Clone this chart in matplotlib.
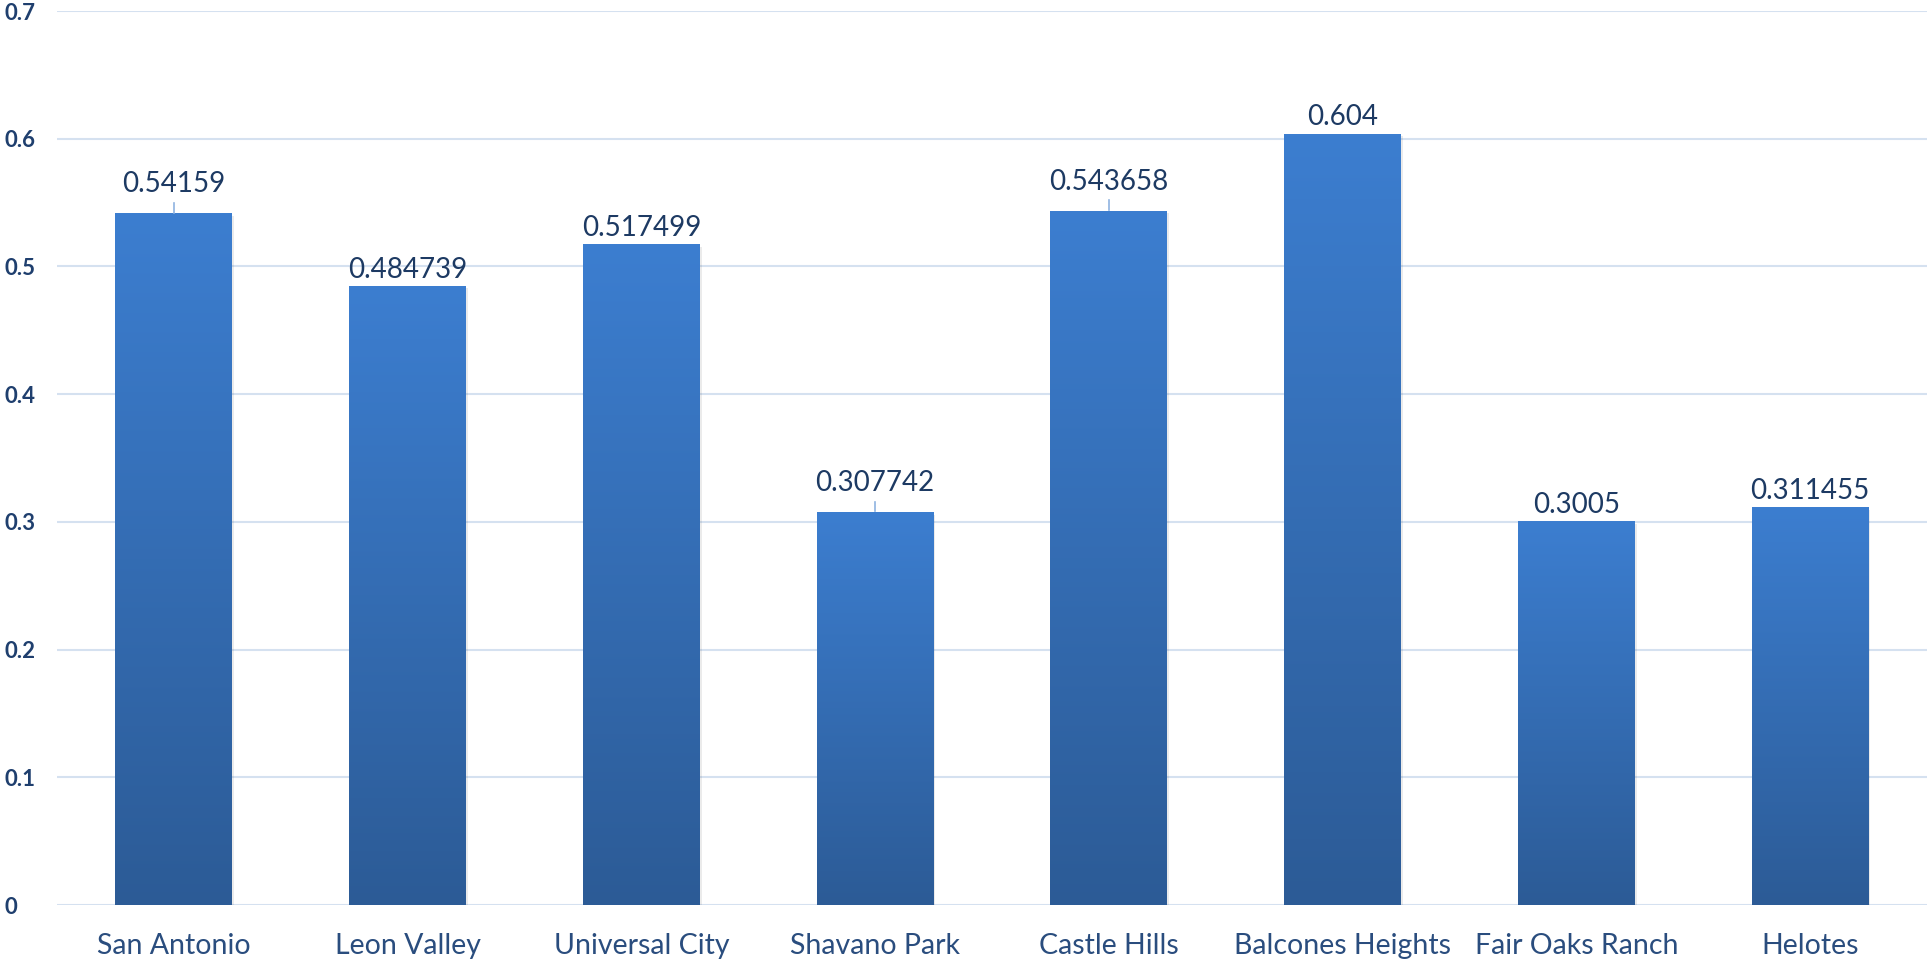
import numpy as np
import matplotlib

matplotlib.use("Agg")
import matplotlib.pyplot as plt

plt.rcParams["font.family"] = ["Lato", "DejaVu Sans"]

cities = ["San Antonio", "Leon Valley", "Universal City", "Shavano Park",
          "Castle Hills", "Balcones Heights", "Fair Oaks Ranch", "Helotes"]
values = [0.54159, 0.484739, 0.517499, 0.307742,
          0.543658, 0.604, 0.3005, 0.311455]
labels = ["0.54159", "0.484739", "0.517499", "0.307742",
          "0.543658", "0.604", "0.3005", "0.311455"]
leader = [True, False, False, True, True, False, False, False]
yticks = [0, 0.1, 0.2, 0.3, 0.4, 0.5, 0.6, 0.7]

fig = plt.figure(figsize=(19.27, 9.63), dpi=100)
ax = fig.add_axes([57 / 1927, 1 - 905 / 963, 1870 / 1927, 894 / 963])

x = np.arange(len(cities))
bars = ax.bar(x, values, width=0.5, color="none", zorder=3)

# vertical gradient, light on top, darker at the base
grad = np.linspace(0, 1, 256).reshape(-1, 1)
cmap = matplotlib.colors.LinearSegmentedColormap.from_list(
    "g", ["#2c5b96", "#3c7ed0"])
for b in bars:
    x0, w, h = b.get_x(), b.get_width(), b.get_height()
    # soft shadow
    ax.bar(x0 + w / 2 + 0.008, h, width=w, bottom=-0.002, color="#000000",
           alpha=0.08, zorder=2)
    im = ax.imshow(grad, extent=[x0, x0 + w, 0, h], origin="lower",
                   cmap=cmap, aspect="auto", zorder=3)
    im.set_clip_path(b)

for i, (v, lab) in enumerate(zip(values, labels)):
    off = 0.0165 if leader[i] else 0.0065
    ax.text(x[i], v + off, lab, ha="center", va="baseline", fontsize=20,
            color="#1d3a63")
    if leader[i]:
        ax.plot([x[i], x[i]], [v + 0.0005, v + 0.008], color="#8fb3e0",
                lw=1.2, zorder=4)

ax.set_xlim(-0.5, len(cities) - 0.5)
ax.set_ylim(0, 0.7)
ax.set_yticks(yticks)
ax.set_yticklabels([f"{t:g}" for t in yticks], fontsize=16,
                   fontweight="bold", color="#1f3f6e")
ax.set_xticks(x)
ax.set_xticklabels(cities, fontsize=20.5, color="#2a4d7e")
ax.tick_params(length=0)
ax.tick_params(axis="x", pad=20)
ax.tick_params(axis="y", pad=38)
for lab in ax.get_yticklabels():
    lab.set_horizontalalignment("left")
ax.grid(axis="y", color="#d5e1f0", lw=1.5, zorder=0)
for s in ax.spines.values():
    s.set_visible(False)

fig.savefig("out.png", dpi=100)
